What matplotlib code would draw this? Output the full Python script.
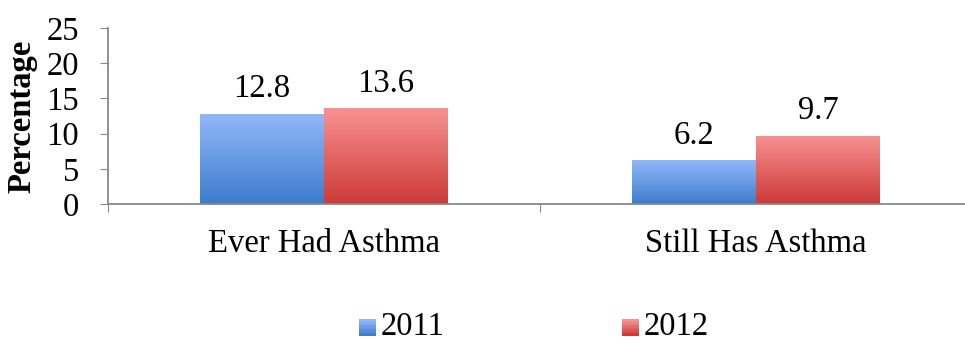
import matplotlib.pyplot as plt
import matplotlib.colors as mcolors
import numpy as np
from matplotlib.legend_handler import HandlerBase
from matplotlib.patches import Rectangle

categories = ["Ever Had Asthma", "Still Has Asthma"]
years = ["2011", "2012"]
values_2011 = [12.8, 6.2]
values_2012 = [13.6, 9.7]

grad_colors = {
    "2011": ("#92b8f9", "#3d7ccc"),
    "2012": ("#f79292", "#cc3a37"),
}

plt.rcParams["font.family"] = ["Liberation Serif", "DejaVu Serif"]
FS = 23.5


class GradientHandler(HandlerBase):
    def __init__(self, top, bottom):
        super().__init__()
        self.top, self.bottom = top, bottom

    def create_artists(self, legend, orig_handle, xdescent, ydescent, width, height, fontsize, trans):
        cmap = mcolors.LinearSegmentedColormap.from_list("g", [self.bottom, self.top])
        n = 12
        size = width
        x0 = -xdescent
        y0 = -ydescent - 2
        arts = []
        for i in range(n):
            r = Rectangle((x0, y0 + size * i / n), size, size / n + 0.3,
                          facecolor=cmap(i / (n - 1)), edgecolor="none", transform=trans)
            arts.append(r)
        return arts


fig = plt.figure(figsize=(9.65, 3.45), dpi=100)
ax = fig.add_axes([108 / 965, 141 / 345, 864 / 965, 176 / 345])

centers = np.arange(len(categories)) + 0.5
bw = 0.287
grad = np.linspace(1, 0, 256).reshape(-1, 1)

handles = []
for k, (yr, vals) in enumerate(zip(years, [values_2011, values_2012])):
    xs = centers + (k - 0.5) * bw
    bars = ax.bar(xs, vals, width=bw, color="none", edgecolor="none", label=yr)
    cmap = mcolors.LinearSegmentedColormap.from_list(yr, [grad_colors[yr][1], grad_colors[yr][0]])
    for b, v in zip(bars, vals):
        x0 = b.get_x()
        im = ax.imshow(grad, extent=[x0, x0 + bw, 0, v], cmap=cmap, aspect="auto", zorder=2)
        im.set_clip_path(b)
        ax.annotate(f"{v}", (x0 + bw / 2, v), xytext=(0, 7), textcoords="offset points",
                    ha="center", va="bottom", fontsize=FS)
    handles.append(bars)

ax.set_xlim(0, 2)
ax.set_ylim(0, 25)
ax.set_yticks([0, 5, 10, 15, 20, 25])
ax.tick_params(axis="y", labelsize=FS, length=6, color="#888888", pad=15)
ax.set_xticks([0, 1, 2])
ax.set_xticklabels([])
ax.set_xticks(centers, minor=True)
ax.set_xticklabels(categories, minor=True)
ax.tick_params(axis="x", which="major", length=6, color="#888888")
ax.tick_params(axis="x", which="minor", length=0, labelsize=FS, pad=18)
for s in ["top", "right"]:
    ax.spines[s].set_visible(False)
for s in ["left", "bottom"]:
    ax.spines[s].set_color("#888888")
    ax.spines[s].set_linewidth(1.3)
ax.set_ylabel("Percentage", fontsize=FS, fontweight="bold", labelpad=6)

leg = fig.legend(handles, years, loc="center", bbox_to_anchor=(534 / 965, 1 - 327 / 345),
                 ncol=2, frameon=False, fontsize=FS, columnspacing=5.45,
                 handlelength=0.5, handleheight=0.5, handletextpad=0.15,
                 borderpad=0.1,
                 handler_map={handles[0]: GradientHandler(*grad_colors["2011"]),
                              handles[1]: GradientHandler(*grad_colors["2012"])})

fig.savefig("out.png", dpi=100)
